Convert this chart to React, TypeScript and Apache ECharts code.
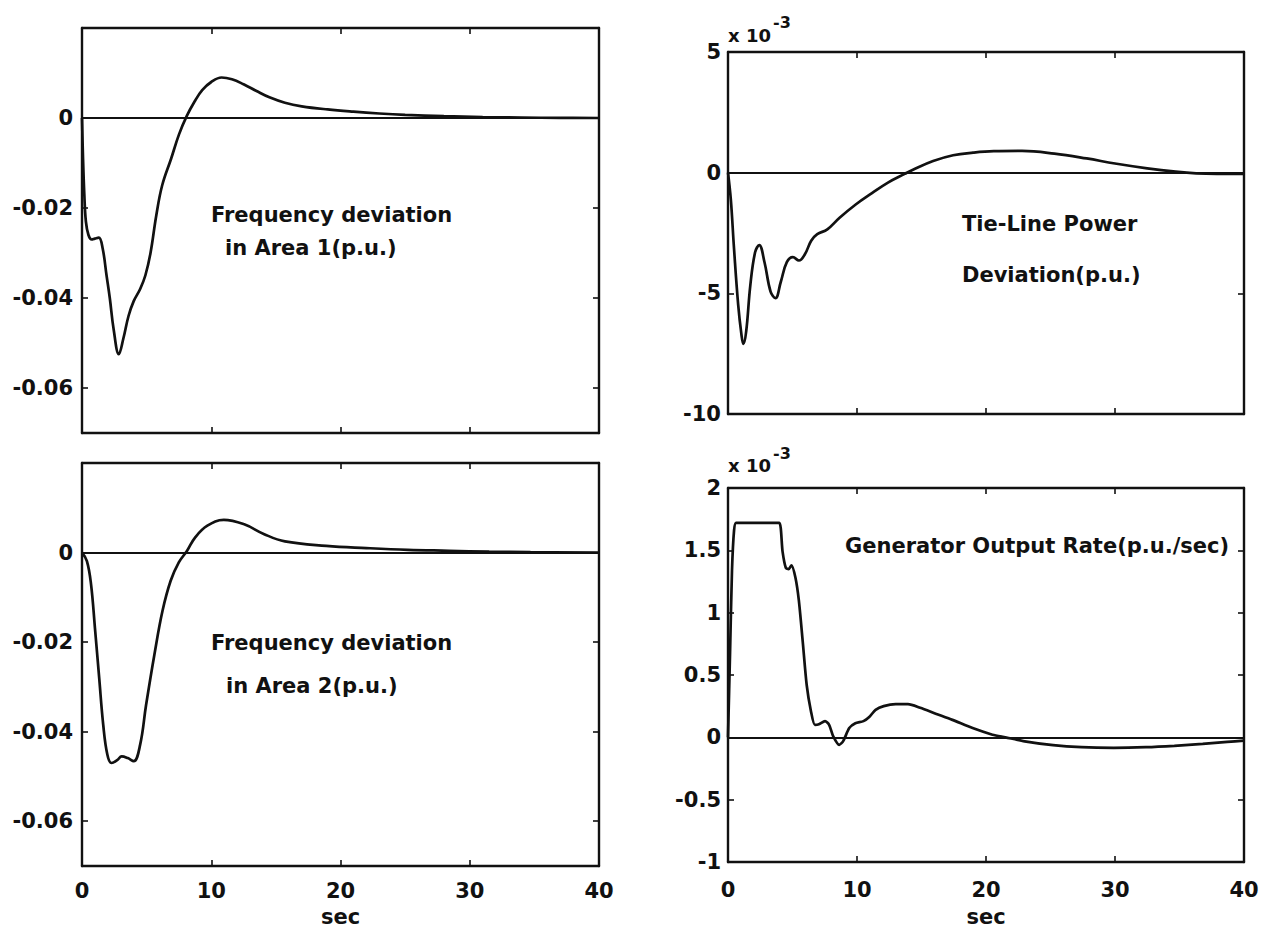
import React, { useEffect, useRef } from 'react';
import * as echarts from 'echarts';

// ---------- data ----------
const area1Time = [0, 0.08, 0.18, 0.3, 0.5, 0.75, 1.0, 1.3, 1.6, 1.9, 2.15, 2.45, 2.85, 3.2, 3.6, 4.0, 4.5, 4.9, 5.3, 5.75, 6.2, 6.9, 7.5, 8.1, 8.7, 9.3, 10.0, 10.8, 11.6, 12.5, 13.5, 14.5, 15.7, 17, 19, 21, 23, 25, 28, 31, 34, 37, 40];
const area1Freq = [0, -0.009, -0.017, -0.023, -0.026, -0.027, -0.0268, -0.0266, -0.029, -0.035, -0.040, -0.047, -0.0525, -0.049, -0.044, -0.0407, -0.038, -0.035, -0.030, -0.0216, -0.015, -0.009, -0.0037, 0.0004, 0.0036, 0.0062, 0.008, 0.009, 0.0086, 0.0075, 0.006, 0.0046, 0.0034, 0.0026, 0.0019, 0.0014, 0.001, 0.0007, 0.0004, 0.0002, 0.0001, 0.00003, 0];

const area2Time = [0, 0.38, 0.7, 1.0, 1.33, 1.64, 1.96, 2.28, 2.75, 3.07, 3.54, 4.0, 4.5, 4.96, 5.6, 6.23, 6.86, 7.49, 8.13, 8.76, 9.7, 10.97, 12.55, 14.1, 15.7, 18.9, 22, 25.2, 28.4, 31.5, 34.7, 40];
const area2Freq = [0, -0.0019, -0.0071, -0.0168, -0.028, -0.0384, -0.0451, -0.047, -0.0463, -0.0455, -0.0459, -0.0466, -0.0429, -0.034, -0.0228, -0.013, -0.0063, -0.0022, 0.0004, 0.0034, 0.006, 0.0073, 0.0063, 0.0041, 0.0025, 0.0015, 0.001, 0.0006, 0.0004, 0.0002, 0.0001, 0];

// tie-line power deviation, in units of 1e-3 p.u.
const tieTime = [0, 0.22, 0.47, 0.79, 1.04, 1.19, 1.41, 1.73, 2.1, 2.42, 2.83, 3.3, 3.68, 4.09, 4.56, 5.03, 5.5, 5.97, 6.45, 6.92, 7.7, 8.65, 9.9, 11.16, 12.4, 13.7, 14.3, 15.9, 17.45, 19.0, 20.6, 22.8, 25.3, 27.8, 30.0, 32.5, 34.7, 36.3, 37.9, 40];
const tiePower = [0, -1.12, -3.17, -5.48, -6.7, -7.1, -6.58, -4.67, -3.3, -3.0, -3.71, -4.93, -5.2, -4.53, -3.71, -3.5, -3.64, -3.37, -2.82, -2.55, -2.35, -1.87, -1.32, -0.85, -0.41, -0.05, 0.11, 0.48, 0.72, 0.83, 0.89, 0.9, 0.79, 0.59, 0.38, 0.18, 0.04, -0.03, -0.05, -0.05];

// generator output rate, in units of 1e-3 p.u./sec
const genTime = [0, 0.16, 0.31, 0.47, 0.63, 1.5, 2.5, 3.5, 3.98, 4.23, 4.48, 4.7, 4.92, 5.23, 5.49, 5.8, 6.1, 6.43, 6.74, 7.05, 7.52, 7.84, 8.15, 8.62, 8.93, 9.4, 9.87, 10.5, 10.97, 11.44, 12.07, 13.0, 13.95, 14.9, 16.1, 17.4, 18.96, 20.5, 21.5, 23.0, 25.2, 27.4, 29.9, 32.4, 34.6, 36.8, 38.7, 40];
const genRate = [0, 0.68, 1.34, 1.66, 1.72, 1.72, 1.72, 1.72, 1.72, 1.49, 1.36, 1.35, 1.38, 1.28, 1.1, 0.76, 0.42, 0.21, 0.1, 0.105, 0.13, 0.1, 0.01, -0.06, -0.03, 0.074, 0.113, 0.13, 0.166, 0.22, 0.25, 0.266, 0.266, 0.237, 0.19, 0.14, 0.074, 0.021, 0, -0.032, -0.063, -0.079, -0.084, -0.079, -0.068, -0.053, -0.037, -0.026];

const freqTicks = [-0.06, -0.04, -0.02, 0];
const freqRange = [-0.07, 0.02];
const tieRange = [-10, 5];
const genRange = [-1, 2];
const timeRange = [0, 40];

const annotations = [
  'Frequency deviation',
  'in Area 1(p.u.)',
  'Frequency deviation',
  'in Area 2(p.u.)',
  'Tie-Line Power',
  'Deviation(p.u.)',
  'Generator Output Rate(p.u./sec)',
];

// ---------- styling ----------
const FONT = '"DejaVu Sans", "Liberation Sans", sans-serif';
const INK = '#111111';

const zip = (t: number[], v: number[]) => t.map((x, i) => [x, v[i]]);

export default function App() {
  const ref = useRef<HTMLDivElement>(null);

  useEffect(() => {
    document.body.style.margin = '0';
    const chart = echarts.init(ref.current!, null, { renderer: 'svg' });

    const grids = [
      { left: 82, top: 28, width: 517, height: 405 },
      { left: 82, top: 463, width: 517, height: 403 },
      { left: 728, top: 52, width: 516, height: 362 },
      { left: 728, top: 488, width: 516, height: 374 },
    ];

    const axisLine = { show: true, onZero: false, lineStyle: { color: INK, width: 2.4 } };
    const tickStyle = { color: INK, width: 1.6 };
    const labelStyle = { color: INK, fontFamily: FONT, fontWeight: 'bold' as const, fontSize: 21 };

    const xAxes: any[] = [];
    const yAxes: any[] = [];

    const showXLabels = [false, true, false, true];
    const xLabelMargin = [14, 14, 14, 17];
    const xNameGap = [40, 40, 40, 44];
    grids.forEach((_, i) => {
      xAxes.push({
        type: 'value', gridIndex: i, position: 'bottom',
        min: timeRange[0], max: timeRange[1], interval: 10,
        axisLine,
        axisTick: { show: true, inside: true, length: 6, lineStyle: tickStyle },
        axisLabel: { show: showXLabels[i], margin: xLabelMargin[i], ...labelStyle },
        splitLine: { show: false },
        name: showXLabels[i] ? 'sec' : '',
        nameLocation: 'middle',
        nameGap: xNameGap[i],
        nameTextStyle: { ...labelStyle },
      });
      xAxes.push({
        type: 'value', gridIndex: i, position: 'top',
        min: timeRange[0], max: timeRange[1], interval: 10,
        axisLine,
        axisTick: { show: true, inside: true, length: 6, lineStyle: tickStyle },
        axisLabel: { show: false },
        splitLine: { show: false },
      });
    });

    const freqFmt = (v: number) => (v === 0 ? '0' : v.toFixed(2));
    const freqY = (i: number, pos: 'left' | 'right', labels: boolean) => ({
      type: 'value', gridIndex: i, position: pos,
      min: freqRange[0], max: freqRange[1],
      axisLine,
      axisTick: { show: true, inside: true, length: 6, lineStyle: tickStyle, customValues: freqTicks },
      axisLabel: { show: labels, margin: 9, formatter: freqFmt, customValues: freqTicks, ...labelStyle },
      splitLine: { show: false },
    });
    const numY = (i: number, pos: 'left' | 'right', labels: boolean, range: number[], interval: number) => ({
      type: 'value', gridIndex: i, position: pos,
      min: range[0], max: range[1], interval,
      axisLine,
      axisTick: { show: true, inside: true, length: 6, lineStyle: tickStyle },
      axisLabel: { show: labels, margin: 7, ...labelStyle },
      splitLine: { show: false },
    });

    yAxes.push(freqY(0, 'left', true), freqY(0, 'right', false));
    yAxes.push(freqY(1, 'left', true), freqY(1, 'right', false));
    yAxes.push(numY(2, 'left', true, tieRange, 5), numY(2, 'right', false, tieRange, 5));
    yAxes.push(numY(3, 'left', true, genRange, 0.5), numY(3, 'right', false, genRange, 0.5));

    const zeroLine = {
      silent: true,
      symbol: ['none', 'none'],
      label: { show: false },
      lineStyle: { color: INK, width: 2, type: 'solid' },
      data: [{ yAxis: 0 }],
    };

    const datasets = [
      zip(area1Time, area1Freq),
      zip(area2Time, area2Freq),
      zip(tieTime, tiePower),
      zip(genTime, genRate),
    ];
    const names = ['Area 1 frequency deviation', 'Area 2 frequency deviation', 'Tie-line power deviation', 'Generator output rate'];
    const smoothness = [0.4, 0.4, 0.4, 0.25];

    const series = datasets.map((d, i) => ({
      name: names[i],
      type: 'line',
      xAxisIndex: 2 * i,
      yAxisIndex: 2 * i,
      data: d,
      showSymbol: false,
      smooth: smoothness[i],
      lineStyle: { color: INK, width: 2.7 },
      itemStyle: { color: INK },
      markLine: zeroLine,
    }));

    const txt = (text: string, x: number, y: number, size = 21) => ({
      type: 'text',
      x, y,
      silent: true,
      style: {
        text,
        fill: INK,
        fontFamily: FONT,
        fontWeight: 'bold',
        fontSize: size,
        align: 'left',
        verticalAlign: 'middle',
        textAlign: 'left',
        textVerticalAlign: 'middle',
      },
    });

    const graphic = [
      txt(annotations[0], 211, 215),
      txt(annotations[1], 225, 248),
      txt(annotations[2], 211, 643),
      txt(annotations[3], 226, 686),
      txt(annotations[4], 962, 224),
      txt(annotations[5], 962, 275),
      txt(annotations[6], 845, 546),
      txt('x 10', 728, 35, 18),
      txt('-3', 773, 22, 16),
      txt('x 10', 728, 465, 18),
      txt('-3', 773, 453, 16),
    ];

    chart.setOption({
      animation: false,
      backgroundColor: '#ffffff',
      grid: grids,
      xAxis: xAxes,
      yAxis: yAxes,
      series,
      graphic,
    });

    return () => chart.dispose();
  }, []);

  return <div ref={ref} style={{ width: 1264, height: 932 }} />;
}
